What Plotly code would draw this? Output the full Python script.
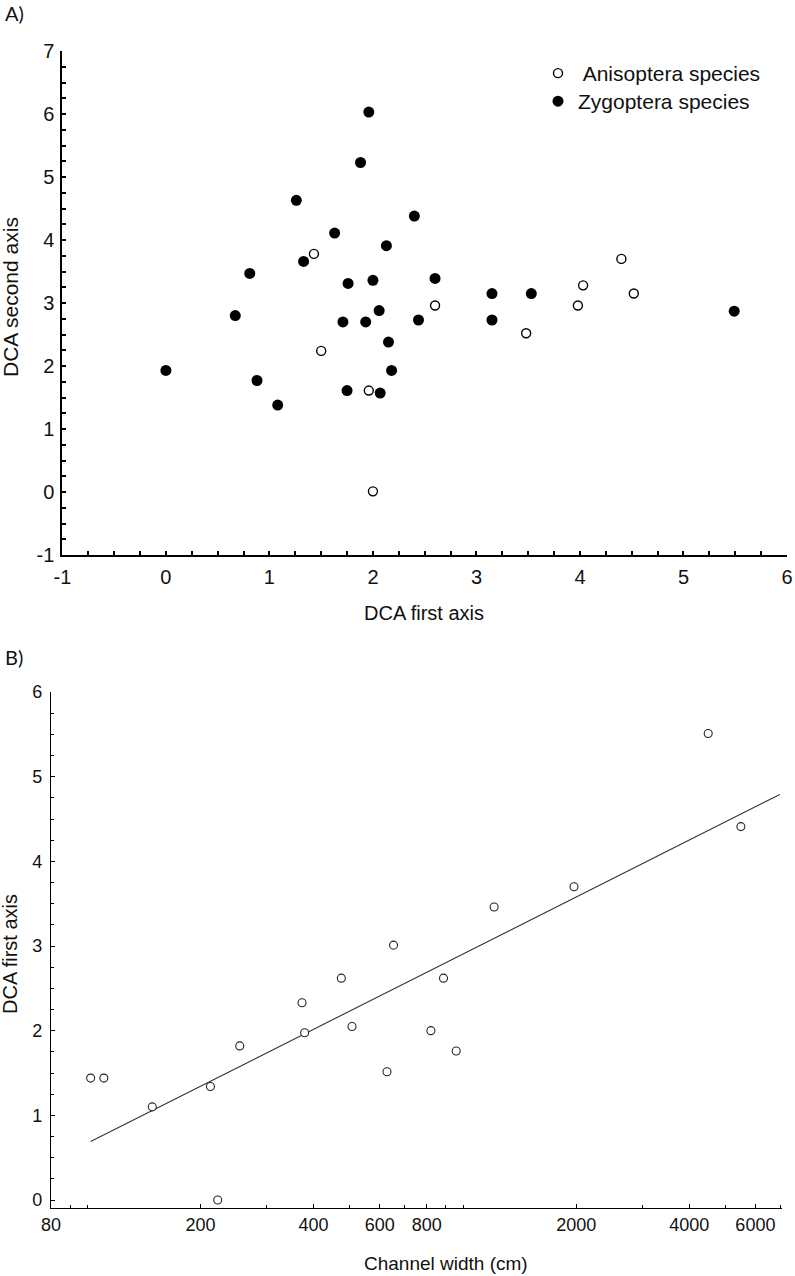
import plotly.graph_objects as go
import numpy as np

# ---------------- Panel A data ----------------
zyg_x = [1.96, 1.88, 1.26, 1.63, 2.13, 1.33, 0.81, 1.76, 2.00, 2.06, 0.67, 1.71, 1.93, 2.15,
         0.00, 2.18, 0.88, 1.75, 2.07, 1.08, 2.40, 2.60, 3.15, 3.53, 5.49, 2.44, 3.15]
zyg_y = [6.03, 5.23, 4.63, 4.11, 3.91, 3.66, 3.47, 3.31, 3.36, 2.88, 2.80, 2.70, 2.70, 2.38,
         1.93, 1.93, 1.77, 1.61, 1.57, 1.38, 4.38, 3.39, 3.15, 3.15, 2.87, 2.73, 2.73]
ani_x = [1.43, 1.50, 1.96, 2.00, 2.60, 4.40, 4.03, 3.98, 4.52, 3.48]
ani_y = [3.78, 2.24, 1.61, 0.01, 2.96, 3.70, 3.28, 2.96, 3.15, 2.52]

# ---------------- Panel B data ----------------
width_cm = [102, 110.6, 148.8, 212.6, 222.3, 254.4, 372.7, 378.7, 474.2, 506.3, 627.2, 653,
            821, 887, 958.7, 1209.5, 1974, 4493, 5490]
dca1 = [1.44, 1.44, 1.10, 1.34, 0.00, 1.82, 2.33, 1.975, 2.62, 2.05, 1.515, 3.01,
        2.00, 2.62, 1.76, 3.46, 3.70, 5.51, 4.41]
fit_x = [102, 6970]
fit_y = [0.69, 4.79]

a_xticks = [-1, 0, 1, 2, 3, 4, 5, 6]
a_xticklabels = ["-1", "0", "1", "2", "3", "4", "5", "6"]
a_yticks = [-1, 0, 1, 2, 3, 4, 5, 6, 7]
a_yticklabels = ["-1", "0", "1", "2", "3", "4", "5", "6", "7"]
b_xticks = [80, 200, 400, 600, 800, 2000, 4000, 6000]
b_xticklabels = ["80", "200", "400", "600", "800", "2000", "4000", "6000"]
b_xminor = [90, 100, 300, 500, 700, 900, 1000, 3000, 5000, 7000]
b_yticks = [0, 1, 2, 3, 4, 5, 6]

FONT = "Liberation Sans, Arial, sans-serif"
W, H = 795, 1276

fig = go.Figure()

fig.add_trace(go.Scatter(
    x=ani_x, y=ani_y, mode="markers", name=" Anisoptera species", legend="legend",
    marker=dict(symbol="circle", size=9, color="white", line=dict(color="black", width=1.4)),
    xaxis="x", yaxis="y"))
fig.add_trace(go.Scatter(
    x=zyg_x, y=zyg_y, mode="markers", name="Zygoptera species", legend="legend2",
    marker=dict(symbol="circle", size=11, color="black", line=dict(color="black", width=0)),
    xaxis="x", yaxis="y"))

fig.add_trace(go.Scatter(
    x=fit_x, y=fit_y, mode="lines", showlegend=False,
    line=dict(color="#333333", width=1.1), xaxis="x2", yaxis="y2"))
fig.add_trace(go.Scatter(
    x=width_cm, y=dca1, mode="markers", showlegend=False,
    marker=dict(symbol="circle", size=8, color="white", line=dict(color="#222222", width=1.1)),
    xaxis="x2", yaxis="y2"))

def px_x(p):
    return p / W

def px_y(p):
    return 1 - p / H

axA = dict(showgrid=False, zeroline=False, showline=True, linecolor="black", linewidth=2,
           ticks="inside", ticklen=4, tickwidth=1.5, tickcolor="black",
           tickfont=dict(family=FONT, size=20, color="#111111"),
           minor=dict(dtick=0.25, ticks="inside", ticklen=4, tickwidth=1.5, tickcolor="black"))

leg_common = dict(xanchor="left", yanchor="top", bgcolor="rgba(0,0,0,0)", borderwidth=0,
                  font=dict(family=FONT, size=21, color="#111111"), itemwidth=30)

fig.update_layout(
    width=W, height=H,
    margin=dict(l=0, r=0, t=0, b=0, autoexpand=False),
    paper_bgcolor="white", plot_bgcolor="white",
    font=dict(family=FONT, color="#111111"),
    xaxis=dict(axA, domain=[px_x(62.4), px_x(787)], range=[-1, 6], anchor="y",
               tickmode="array", tickvals=a_xticks, ticktext=a_xticklabels,
               ticklabelstandoff=3),
    yaxis=dict(axA, domain=[px_y(555), px_y(51)], range=[-1, 7], anchor="x",
               tickmode="array", tickvals=a_yticks, ticktext=a_yticklabels,
               ticklabelstandoff=2),
    xaxis2=dict(type="log", showgrid=False, zeroline=False, showline=True, linecolor="black",
                linewidth=1.3, ticks="inside", ticklen=4, tickwidth=1.2, tickcolor="black",
                tickfont=dict(family=FONT, size=18, color="#111111"),
                domain=[px_x(51), px_x(781.7)], range=[np.log10(80), np.log10(7050)],
                anchor="y2", tickmode="array", tickvals=b_xticks, ticktext=b_xticklabels,
                minor=dict(tickvals=b_xminor, ticks="inside", ticklen=3, tickwidth=1.2,
                           tickcolor="black")),
    yaxis2=dict(showgrid=False, zeroline=False, showline=True, linecolor="black",
                linewidth=1.3, ticks="inside", ticklen=4, tickwidth=1.2, tickcolor="black",
                tickfont=dict(family=FONT, size=18, color="#111111"),
                domain=[px_y(1208.3), px_y(692)], range=[-0.098, 6], anchor="x2",
                tickmode="array", tickvals=b_yticks, ticklabelstandoff=4,
                minor=dict(dtick=0.25, ticks="inside", ticklen=3, tickwidth=1.2,
                           tickcolor="black")),
    legend=dict(leg_common, x=px_x(538), y=px_y(53)),
    legend2=dict(leg_common, x=px_x(538), y=px_y(81)),
    showlegend=True,
)

annotations = [
    dict(text="A)", x=px_x(3), y=px_y(13), xanchor="left", yanchor="middle",
         font=dict(family="Lato, sans-serif", size=20, color="#111111")),
    dict(text="B)", x=px_x(3), y=px_y(657), xanchor="left", yanchor="middle",
         font=dict(family="Lato, sans-serif", size=20, color="#111111")),
    dict(text="DCA first axis", x=px_x(424), y=px_y(613), xanchor="center", yanchor="middle",
         font=dict(family=FONT, size=20, color="#111111")),
    dict(text="DCA second axis", x=px_x(11), y=px_y(297), xanchor="center", yanchor="middle",
         textangle=-90, font=dict(family=FONT, size=21, color="#111111")),
    dict(text="Channel width (cm)", x=px_x(446), y=px_y(1263.5), xanchor="center",
         yanchor="middle", borderpad=0, font=dict(family=FONT, size=19, color="#111111")),
    dict(text="DCA first axis", x=px_x(10), y=px_y(954), xanchor="center", yanchor="middle",
         textangle=-90, font=dict(family=FONT, size=20, color="#111111")),
]
for a in annotations:
    a.update(xref="paper", yref="paper", showarrow=False)
fig.update_layout(annotations=annotations)

fig.write_html("out.html", config={"displayModeBar": False},
               post_script="document.body.style.margin='0px';")
